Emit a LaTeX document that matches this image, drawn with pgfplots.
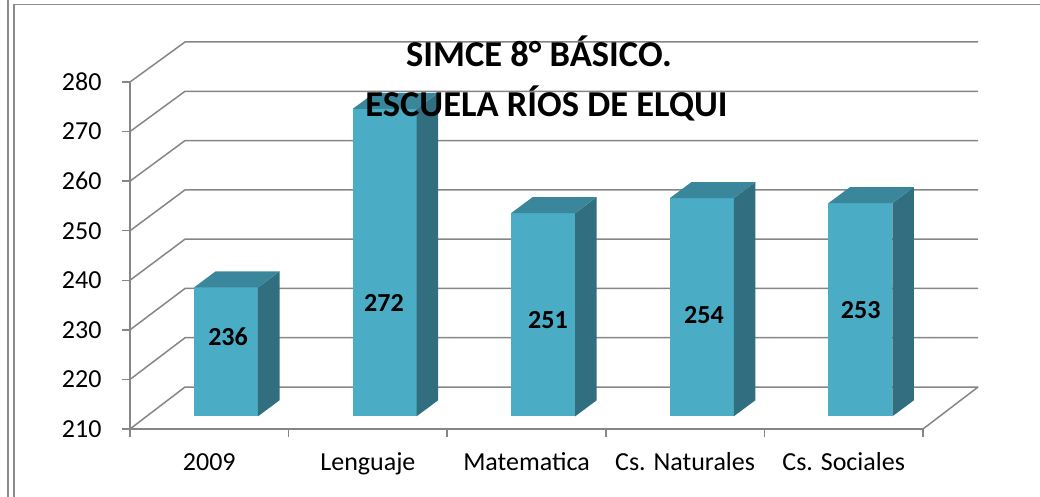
\documentclass[border=0pt]{standalone}
\usepackage{pgfplots}
\pgfplotsset{compat=1.18}
\usepackage{pgfplotstable}
\usepackage{fontspec}
\setmainfont{Carlito}
\definecolor{barfront}{RGB}{75,172,198}
\definecolor{barside}{RGB}{49,110,128}
\definecolor{bartop}{RGB}{58,135,156}
\definecolor{gridgray}{RGB}{134,134,134}
\definecolor{framegray}{RGB}{140,140,140}

% category index, value, label position (x, y)
\pgfplotstableread{
i v lx ly
0 236 0.618 228.66
1 272 1.6015 235.36
2 251 2.6356 231.99
3 254 3.619 233.0
4 253 4.607 234.0
}\datatab

\begin{document}
\begin{tikzpicture}
\useasboundingbox (0pt,0pt) rectangle (1040pt,497pt);
\draw[framegray,line width=1.3pt] (8pt,0pt)--(8pt,497pt);
\draw[framegray,line width=1.3pt] (14pt,0pt)--(14pt,492.5pt)--(1040pt,492.5pt);
\begin{axis}[
  at={(130pt,68pt)}, anchor=south west,
  scale only axis, width=793pt, height=347pt,
  xmin=0, xmax=5, ymin=210, ymax=280,
  clip=false,
  axis x line*=bottom, axis y line*=left,
  axis line style={gridgray,line width=1.5pt},
  xtick={0,...,5}, x tick label as interval,
  xticklabels={2009,Lenguaje,Matematica,Cs. Naturales,Cs. Sociales},
  ytick={210,220,...,280},
  tick align=outside, major tick length=8pt,
  tick style={gridgray,line width=1.5pt},
  ticklabel style={font=\fontsize{26}{30}\selectfont},
  /pgf/number format/assume math mode=true,
  yticklabel style={anchor=east, xshift=-17pt},
  xticklabel style={anchor=base, yshift=-34pt},
]
% walls and floor
\pgfplotsinvokeforeach{210,220,...,280}{
  \draw[gridgray,line width=1.5pt] (axis cs:0,#1) -- (axis cs:0.347,{218.47+0.9943*(#1-210)}) -- (axis cs:5.347,{218.47+0.9943*(#1-210)});
}
\draw[gridgray,line width=1.5pt] (axis cs:5,210) -- (axis cs:5.347,218.47);
% 3D bars
\pgfplotsinvokeforeach{0,...,4}{
  \pgfplotstablegetelem{#1}{v}\of\datatab
  \pgfmathsetmacro\xl{#1+0.4035}
  \pgfmathsetmacro\xr{#1+0.807}
  \pgfmathsetmacro\xbl{#1+0.4035+0.1356}
  \pgfmathsetmacro\xbr{#1+0.807+0.1356}
  \pgfmathsetmacro\yt{\pgfplotsretval+2.56}
  \pgfmathsetmacro\ytb{\pgfplotsretval+2.56+3.228}
  \edef\barcmd{%
    \noexpand\addplot[draw=none,fill=barfront] coordinates {(\xl,212.56) (\xr,212.56) (\xr,\yt) (\xl,\yt)} -- cycle;
    \noexpand\addplot[draw=none,fill=barside] coordinates {(\xr,212.56) (\xbr,215.788) (\xbr,\ytb) (\xr,\yt)} -- cycle;
    \noexpand\addplot[draw=none,fill=bartop] coordinates {(\xl,\yt) (\xr,\yt) (\xbr,\ytb) (\xbl,\ytb)} -- cycle;
  }\barcmd
}
% value labels
\addplot[draw=none, nodes near coords, point meta=explicit symbolic,
  nodes near coords style={anchor=center, font=\fontsize{26}{30}\selectfont\bfseries, text=black}]
  table[x=lx, y=ly, meta=v] {\datatab};
\end{axis}
\node[anchor=base, font=\fontsize{36.5}{40}\selectfont\bfseries] at (539pt,430pt) {SIMCE 8° BÁSICO.};
\node[anchor=base, font=\fontsize{36.5}{40}\selectfont\bfseries] at (546.5pt,380pt) {ESCUELA RÍOS DE ELQUI};
\end{tikzpicture}
\end{document}
